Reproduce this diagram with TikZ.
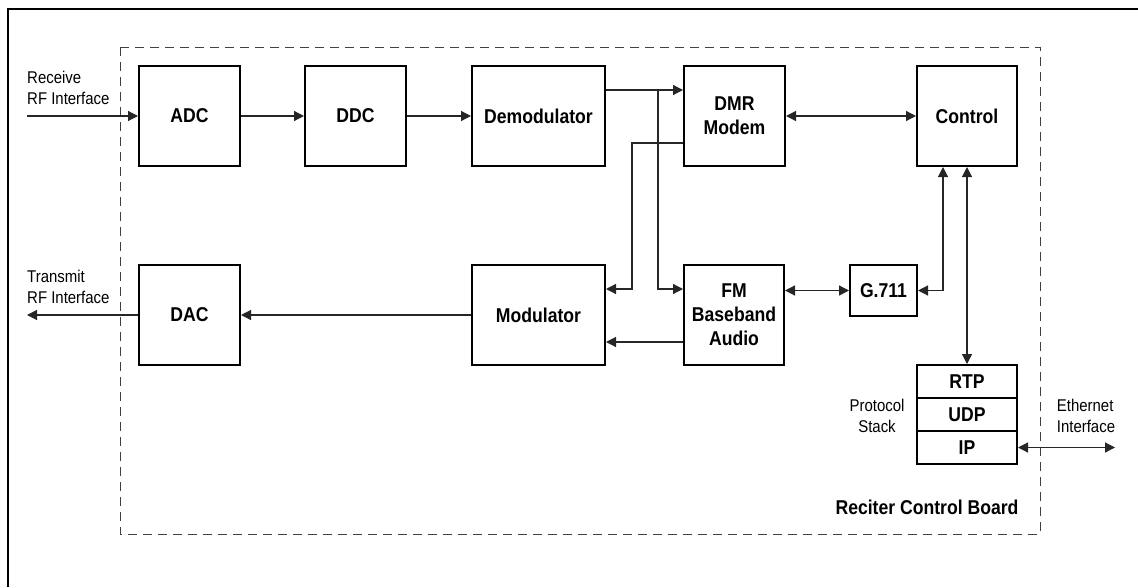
\documentclass[tikz,border=0pt]{standalone}
\usepackage{fontspec}
\setmainfont[FakeStretch=0.88]{Liberation Sans}
\usetikzlibrary{arrows.meta,calc}

\begin{document}
\begin{tikzpicture}[x=1pt,y=-1pt,>={Triangle[length=10pt,width=10pt]}]
            \useasboundingbox (0,0) rectangle (1138,587);
            \tikzset{BlockStyle/.style={draw,line width=2pt,minimum width=101pt,minimum height=100pt,
                inner sep=0pt,align=center,font=\fontsize{20}{24}\selectfont\bfseries}};
            \tikzset{EdgeStyle/.style={line width=1.2pt,draw=black!85}};
            \tikzset{LabelStyle/.style={inner sep=0pt,font=\fontsize{17}{21}\selectfont}};

            \draw[line width=2.8pt] (8,587) -- (8,9) -- (1138,9);
            \draw[line width=0.9pt,black!75,dash pattern=on 9pt off 6pt] (120,47) rectangle (1040,534);

            \node[BlockStyle] (adc) at (189.5,116) {ADC};
            \node[BlockStyle] (ddc) at (355.5,116) {DDC};
            \node[BlockStyle,minimum width=133pt] (demod) at (538.5,116) {Demodulator};
            \node[BlockStyle] (dmr) at (734.5,116) {DMR\\Modem};
            \node[BlockStyle,minimum width=100pt] (control) at (967,116) {Control};

            \node[BlockStyle] (dac) at (189.5,315) {DAC};
            \node[BlockStyle,minimum width=133pt] (mod) at (538.5,315) {Modulator};
            \node[BlockStyle,minimum width=100pt] (fm) at (734,315) {FM\\Baseband\\Audio};
            \node[BlockStyle,minimum width=67pt,minimum height=51pt] (g711) at (883.5,290.5) {G.711};

            \node[BlockStyle,minimum width=100pt,minimum height=33pt] (rtp) at (967,381.5) {RTP};
            \node[BlockStyle,minimum width=100pt,minimum height=33pt] (udp) at (967,414.5) {UDP};
            \node[BlockStyle,minimum width=100pt,minimum height=33pt] (ip) at (967,447.5) {IP};

            \node[LabelStyle,anchor=west,align=left] (rxlabel) at (27,88) {Receive\\RF Interface};
            \node[LabelStyle,anchor=west,align=left] (txlabel) at (27,287) {Transmit\\RF Interface};
            \node[LabelStyle,align=center] (stacklabel) at (877,416) {Protocol\\Stack};
            \node[LabelStyle,align=left] (ethlabel) at (1086,416) {Ethernet\\Interface};
            \node[inner sep=0pt,font=\fontsize{20}{24}\selectfont\bfseries] (boardlabel) at (927,507) {Reciter Control Board};

            \coordinate (rxin) at (27,116);
            \coordinate (txout) at (27,315);
            \coordinate (ethout) at (1115,447.5);
            \coordinate (split) at (658,90);
            \coordinate (turn) at (632,143);

            \draw[EdgeStyle,->] (rxin) -- (adc.west);
            \draw[EdgeStyle,->] (adc) -- (ddc);
            \draw[EdgeStyle,->] (ddc) -- (demod);
            \draw[EdgeStyle,->] ([yshift=26pt]demod.east) -- ([yshift=26pt]dmr.west);
            \draw[EdgeStyle,->] (split) |- ([yshift=26pt]fm.west);
            \draw[EdgeStyle,->] ([yshift=-27pt]dmr.west) -- (turn) |- ([yshift=26pt]mod.east);
            \draw[EdgeStyle,<->] (dmr) -- (control);
            \draw[EdgeStyle,<->] (fm.east |- g711.west) -- (g711.west);
            \draw[EdgeStyle,<->] ([xshift=-24pt]control.south) |- (g711.east);
            \draw[EdgeStyle,<->] (control.south) -- (rtp.north);
            \draw[EdgeStyle,->] ([yshift=-27pt]fm.west) -- ([yshift=-27pt]mod.east);
            \draw[EdgeStyle,->] (mod) -- (dac);
            \draw[EdgeStyle,->] (dac) -- (txout);
            \draw[EdgeStyle,<->] (ip.east) -- (ethout);
\end{tikzpicture}
\end{document}
